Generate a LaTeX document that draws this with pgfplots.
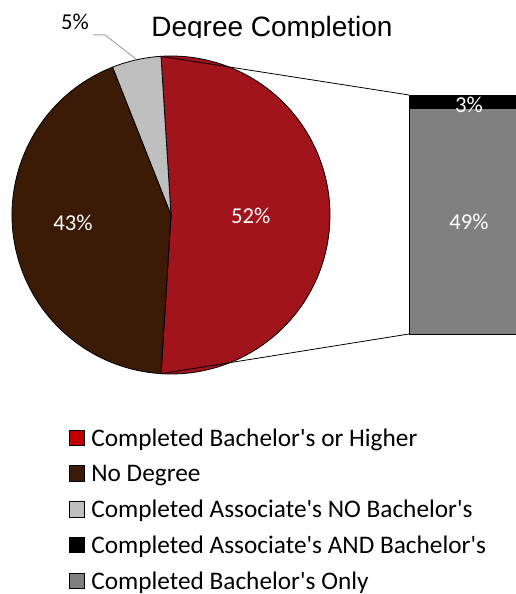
\documentclass[border=0pt]{standalone}
\usepackage{pgfplots}
\pgfplotsset{compat=1.18}
\usepackage{pgfplotstable}
\usepackage{fontspec}
\setmainfont{Carlito}[Ligatures=TeXOff]
\newfontfamily\arialf{Liberation Sans}
\definecolor{piered}{RGB}{161,20,27}
\definecolor{legred}{RGB}{192,0,0}
\definecolor{brownc}{RGB}{60,27,6}
\definecolor{lgray}{RGB}{191,191,191}
\definecolor{dgray}{RGB}{128,128,128}
\definecolor{leader}{RGB}{166,166,166}

\pgfplotstableread{
label value
Bachelor 52
NoDegree 43
Associate 5
}\pietable
\pgfplotstableread{
x only assocand
0 49 3
}\bartable

\begin{document}
\begin{tikzpicture}
\pgfplotstablegetelem{0}{value}\of\pietable \pgfmathsetmacro\va{\pgfplotsretval}
\pgfplotstablegetelem{1}{value}\of\pietable \pgfmathsetmacro\vb{\pgfplotsretval}
\pgfplotstablegetelem{2}{value}\of\pietable \pgfmathsetmacro\vc{\pgfplotsretval}
\pgfmathsetmacro\tot{\va+\vb+\vc}
\pgfmathsetmacro\aA{-180*\va/\tot}
\pgfmathsetmacro\aB{180*\va/\tot}
\pgfmathsetmacro\aC{\aB+360*\vc/\tot}
\pgfmathsetmacro\aD{\aC+360*\vb/\tot}

% bar of pie
\begin{axis}[at={(409pt,260pt)}, anchor=south west, scale only axis,
  width=120pt, height=239pt, xmin=-0.5, xmax=0.5, ymin=0, ymax=52,
  hide axis, clip=false, ybar stacked, bar width=120pt]
\addplot[fill=dgray, draw=black, line width=0.6pt] table[x=x, y=only] \bartable;
\addplot[fill=black, draw=black, line width=0.6pt] table[x=x, y=assocand] \bartable;
\end{axis}

\begin{axis}[at={(0,0)}, anchor=south west, scale only axis,
  width=515pt, height=594pt, xmin=0, xmax=515, ymin=0, ymax=594,
  hide axis, clip=false,
  legend image code/.code={\draw[draw=black, line width=0.8pt, #1] (0pt,0.5pt) rectangle (15.5pt,16pt);},
  legend cell align=left,
  legend style={at={(axis cs:68.3,166)}, anchor=north west, draw=none, fill=none,
    inner sep=0pt, row sep=11.7pt,
    font=\fontsize{25.3}{30}\selectfont,
    nodes={inner sep=0pt, text height=18pt, text depth=6pt, anchor=base west},
    /tikz/column 1/.style={column sep=6.5pt}},
]
% title
\node[anchor=base, inner sep=0pt, font=\arialf\fontsize{28}{34}\selectfont] at (axis cs:272,557.3) {Degree Completion};
\fill[white] (axis cs:135,532) rectangle (axis cs:410,555.7);
% pie
\filldraw[fill=piered, draw=black, line width=0.8pt] (axis cs:171,379) -- ++(\aA:159pt) arc[start angle=\aA, end angle=\aB, radius=159pt] -- cycle;
\filldraw[fill=lgray, draw=black, line width=0.8pt] (axis cs:171,379) -- ++(\aB:159pt) arc[start angle=\aB, end angle=\aC, radius=159pt] -- cycle;
\filldraw[fill=brownc, draw=black, line width=0.8pt] (axis cs:171,379) -- ++(\aC:159pt) arc[start angle=\aC, end angle=\aD, radius=159pt] -- cycle;
% connectors
\draw[black, line width=0.8pt] (axis cs:171,379) ++(\aB:159pt) -- (axis cs:409,499);
\draw[black, line width=0.8pt] (axis cs:171,379) ++(\aA:159pt) -- (axis cs:409,260);
% leader
\draw[leader, line width=1pt] (axis cs:93,559) -- (axis cs:105,559) -- (axis cs:136,535);
% labels
\begin{scope}[every node/.style={anchor=base, inner sep=0pt, font=\fontsize{22.7}{27}\selectfont}]
\node[white] at (axis cs:250.7,370.7) {52\%};
\node[white] at (axis cs:73,363) {43\%};
\node[black] at (axis cs:75,564) {5\%};
\node[white] at (axis cs:469,364) {49\%};
\node[white] at (axis cs:469,481.7) {3\%};
\end{scope}
\addlegendimage{fill=legred}
\addlegendentry{Completed Bachelor's or Higher}
\addlegendimage{fill=brownc}
\addlegendentry{No Degree}
\addlegendimage{fill=lgray}
\addlegendentry{Completed Associate's NO Bachelor's}
\addlegendimage{fill=black}
\addlegendentry{Completed Associate's AND Bachelor's}
\addlegendimage{fill=dgray}
\addlegendentry{Completed Bachelor's Only}
\end{axis}
\pgfresetboundingbox
\path (0,0) rectangle (515pt,594pt);
\end{tikzpicture}
\end{document}
